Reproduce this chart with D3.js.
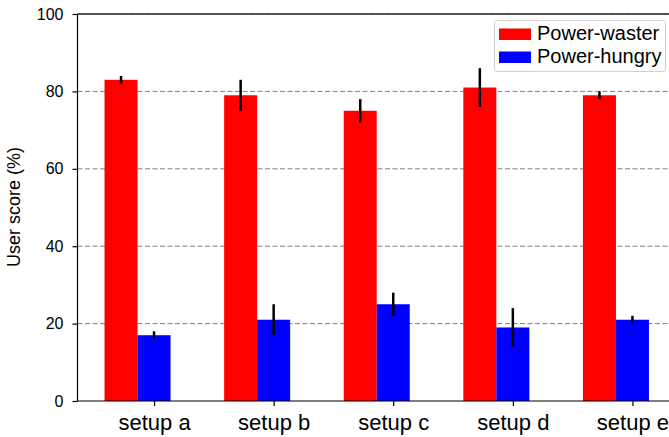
<!DOCTYPE html>
<html><head><meta charset="utf-8">
<script src="https://cdn.jsdelivr.net/npm/d3@7"></script>
<style>body{margin:0;background:#fff}svg{display:block;font-family:"Liberation Sans",Arial,sans-serif}</style>
</head><body><svg id="c" width="669" height="437"></svg>
<script>
const categories = ["setup a","setup b","setup c","setup d","setup e"];
const seriesNames = ["Power-waster","Power-hungry"];
const wasterValues = [83,79,75,81,79];
const wasterErrors = [1,4,3,5,1];
const hungryValues = [17,21,25,19,21];
const hungryErrors = [1,4,3,5,1];
const yTicks = [0,20,40,60,80,100];
const colors = ["#ff0000","#0000ff"];

(function(){
const svg = d3.select("#c");
const pLeft = 77.5, pBottom = 401, pTop = 14;
const step = 119.6, barW = 0.276;
const x = d3.scaleLinear().domain([-0.64, 4.78]).range([pLeft, pLeft + 5.42*step]);
const y = d3.scaleLinear().domain([0,100]).range([pBottom, pTop]);

// grid
svg.append("g").selectAll("line").data(yTicks.filter(d=>d>0)).join("line")
  .attr("x1", pLeft).attr("x2", 669).attr("y1", d=>y(d)).attr("y2", d=>y(d))
  .attr("stroke", "#808080").attr("stroke-width", 1).attr("stroke-dasharray", "5,2.5");

const series = [
  {vals: wasterValues, errs: wasterErrors, off: -barW, color: colors[0]},
  {vals: hungryValues, errs: hungryErrors, off: 0, color: colors[1]}
];
series.forEach(s => {
  svg.append("g").selectAll("rect").data(s.vals).join("rect")
    .attr("x", (d,i)=>x(i + s.off - barW/2)).attr("width", x(barW)-x(0))
    .attr("y", d=>y(d)).attr("height", d=>pBottom - y(d)).attr("fill", s.color);
});
series.forEach(s => {
  svg.append("g").selectAll("line").data(s.vals).join("line")
    .attr("x1", (d,i)=>x(i + s.off)).attr("x2", (d,i)=>x(i + s.off))
    .attr("y1", (d,i)=>y(d + s.errs[i])).attr("y2", (d,i)=>y(d - s.errs[i]))
    .attr("stroke", "#000").attr("stroke-width", 2.5);
});

// spines
svg.append("line").attr("x1", pLeft).attr("x2", 669).attr("y1", pBottom).attr("y2", pBottom).attr("stroke","#000").attr("stroke-width",1.2);
svg.append("line").attr("x1", pLeft).attr("x2", 669).attr("y1", pTop).attr("y2", pTop).attr("stroke","#222").attr("stroke-width",1.4);
svg.append("line").attr("x1", pLeft).attr("x2", 669).attr("y1", pTop).attr("y2", pTop).attr("stroke","#555").attr("stroke-width",1.4).attr("stroke-dasharray","5,2.5");
svg.append("line").attr("x1", pLeft).attr("x2", pLeft).attr("y1", pTop).attr("y2", pBottom).attr("stroke","#000").attr("stroke-width",1.2);

// y axis
const yAxis = d3.axisLeft(y).tickValues(yTicks).tickSize(5).tickPadding(9);
const ya = svg.append("g").attr("transform", `translate(${pLeft},0)`).call(yAxis);
ya.select(".domain").remove();
ya.selectAll("line").attr("stroke","#000").attr("stroke-width",1.2);
ya.selectAll("text").attr("font-size", 16).attr("fill","#000").attr("font-family","Liberation Sans, Arial, sans-serif");

// x axis
const xAxis = d3.axisBottom(x).tickValues(d3.range(categories.length)).tickFormat(i=>categories[i]).tickSize(5).tickPadding(8);
const xa = svg.append("g").attr("transform", `translate(0,${pBottom})`).call(xAxis);
xa.select(".domain").remove();
xa.selectAll("line").attr("stroke","#000").attr("stroke-width",1.2);
xa.selectAll("text").attr("font-size", 22).attr("fill","#000").attr("font-family","Liberation Sans, Arial, sans-serif");

// y title
svg.append("text").attr("transform", "translate(20,207) rotate(-90)").attr("text-anchor","middle")
  .attr("font-size", 18).text("User score (%)");

// legend
const lg = svg.append("g");
lg.append("rect").attr("x", 494.5).attr("y", 20.5).attr("width", 171).attr("height", 51).attr("rx", 3)
  .attr("fill", "rgba(255,255,255,0.8)").attr("stroke", "#d0d0d0").attr("stroke-width", 1);
seriesNames.forEach((n,i) => {
  lg.append("rect").attr("x", 499).attr("y", 28.5 + i*23).attr("width", 32).attr("height", 11.5).attr("fill", colors[i]);
  lg.append("text").attr("x", 537).attr("y", 39.5 + i*23).attr("font-size", 20).text(n);
});
})();
</script></body></html>
